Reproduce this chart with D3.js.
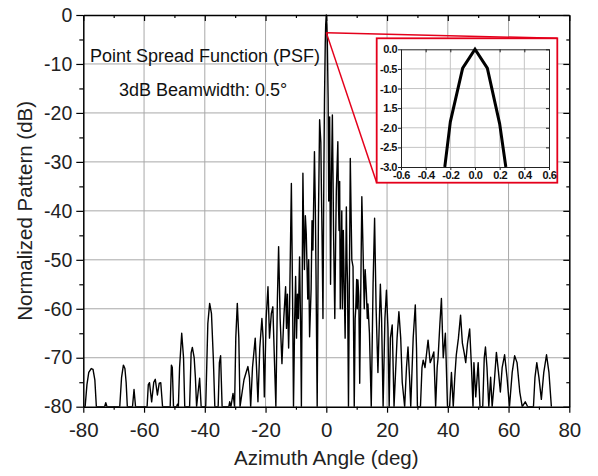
<!DOCTYPE html>
<html>
<head>
<meta charset="utf-8">
<script src="https://cdn.jsdelivr.net/npm/d3@7"></script>
<style>
    body { margin: 0; background: #fff; }
    text { font-family: Arial, "Liberation Sans", sans-serif; }
</style>
</head>
<body>
<svg id="chart" width="598" height="476"></svg>
<script>
// Azimuth pattern, [angle deg, level dB]
const patternPoints = [
    [-80, -80], [-79.4, -80], [-78.8, -75.5], [-78.2, -73], [-77.4, -72.2], [-76.8, -72.4], [-76.2, -74.5], [-75.7, -80],
    [-73.0, -80], [-72.6, -79.2], [-72.2, -80],
    [-68.0, -80], [-67.4, -74], [-66.8, -71.5], [-66.3, -72.2], [-65.9, -75], [-65.5, -80],
    [-63.8, -80], [-63.3, -76.5], [-62.8, -80],
    [-59.0, -80], [-58.6, -75.5], [-58.2, -75.1], [-57.5, -79], [-56.8, -75], [-56.3, -74.4], [-55.6, -77.6], [-55.0, -75.2], [-54.5, -75.1], [-53.9, -80],
    [-51.4, -80], [-51.0, -71.5], [-50.7, -72], [-50.3, -80],
    [-49.3, -80], [-49.0, -79.5], [-48.7, -80],
    [-48.3, -72], [-47.6, -65.0], [-47.0, -70], [-46.6, -80],
    [-45.0, -80], [-44.5, -69], [-44.1, -67.9], [-43.5, -70], [-43.1, -74], [-42.7, -80], [-42.2, -77], [-41.7, -74.2], [-41.2, -80],
    [-39.7, -80], [-39.0, -63], [-38.4, -58.9], [-37.8, -61], [-37.2, -70], [-36.7, -80],
    [-35.6, -80], [-35.2, -71], [-34.8, -69.6], [-34.3, -80],
    [-32.1, -80], [-31.8, -79], [-31.4, -80], [-30.7, -77.3], [-30.2, -80],
    [-29.8, -66], [-29.3, -58.9], [-28.8, -66], [-28.4, -80],
    [-27.7, -77], [-27.1, -74.5], [-26.3, -72.8], [-25.8, -71.8], [-25.3, -74], [-24.9, -80],
    [-24.3, -72], [-23.4, -66.0], [-22.9, -73], [-22.5, -79],
    [-21.9, -68], [-21.2, -62.0], [-20.8, -66], [-20.4, -78],
    [-19.8, -62], [-19.2, -55.5], [-18.7, -66], [-18.1, -61], [-17.6, -59.6], [-17.1, -70], [-16.6, -80],
    [-16.1, -58], [-15.7, -47.3], [-15.2, -62], [-14.6, -71.2], [-14.0, -62], [-13.4, -55.5], [-13.1, -64], [-12.8, -57], [-12.4, -68], [-12.1, -60],
    [-11.5, -34.4], [-11.1, -58], [-10.8, -80], [-10.4, -62], [-10.1, -53.4], [-9.8, -66], [-9.5, -57], [-9.2, -62], [-8.8, -49.4], [-8.4, -66], [-8.2, -80],
    [-7.7, -32.3], [-7.4, -46], [-7.2, -52], [-6.9, -41], [-6.6, -44.6], [-6.1, -58], [-5.8, -50], [-5.5, -65.7], [-5.0, -56], [-4.7, -42], [-4.4, -48],
    [-3.9, -27.9], [-3.6, -40], [-3.4, -52], [-3.0, -80],
    [-2.6, -42], [-2.2, -21.4], [-1.8, -26], [-1.6, -36], [-1.4, -45], [-1.1, -62], [-0.8, -32], [-0.6, -17.4], [-0.35, -6], [-0.2, -2], [0, 0], [0.2, -2], [0.35, -6],
    [0.6, -17], [0.8, -38], [1.1, -20.8], [1.4, -55], [1.7, -33], [2.0, -20.4], [2.2, -32], [2.4, -45], [2.8, -62], [3.1, -45], [3.3, -36], [3.8, -25.9],
    [4.0, -38], [4.2, -44], [4.4, -34], [4.6, -60], [4.9, -48], [5.1, -40], [5.3, -60], [5.6, -44], [5.8, -52], [6.2, -66], [6.6, -39.2], [6.8, -50], [7.0, -55], [7.3, -80],
    [7.9, -29.3], [8.2, -42], [8.4, -50], [8.8, -51.4], [9.2, -80], [9.5, -62], [9.7, -60], [10.0, -54], [10.2, -60], [10.4, -54.1], [10.7, -57.5], [11.0, -75.2],
    [11.7, -37.1], [12.1, -48], [12.5, -60], [12.8, -52], [13.2, -56.8], [13.5, -62], [13.7, -59], [14.2, -65], [14.8, -80],
    [15.4, -55], [15.9, -41.5], [16.4, -60], [17.0, -73], [17.8, -55], [18.2, -62], [18.7, -80], [19.3, -62], [19.8, -56.2], [20.3, -64], [20.7, -80],
    [21.1, -66], [21.7, -63.3], [22.3, -80],
    [23.3, -66], [23.9, -60.6], [24.5, -66], [25.0, -75], [25.8, -80], [26.4, -72], [26.9, -67.8], [27.4, -74], [27.8, -80],
    [28.6, -66], [29.3, -59.2], [29.7, -68], [30.0, -80],
    [31.0, -80], [31.5, -72], [31.9, -70.5], [32.5, -72], [33.5, -66.4], [34.2, -71], [34.8, -70], [35.4, -68.8], [36.0, -80],
    [36.5, -72], [36.8, -70], [37.4, -63], [37.9, -57.9], [38.5, -70], [39.2, -65], [39.9, -80],
    [40.6, -80], [41.2, -73], [41.8, -80], [42.3, -74], [42.8, -69.4], [43.5, -66], [44.2, -61.3], [44.8, -67], [45.4, -69], [45.9, -71],
    [46.5, -67], [47.2, -64.1], [47.8, -72], [48.3, -80], [48.6, -71], [49.2, -78], [50.0, -71], [50.6, -80],
    [51.5, -80], [52.0, -70], [52.4, -67.8], [52.9, -72], [53.5, -80], [54.1, -74], [54.6, -80], [55.3, -75], [56.0, -68.9], [56.7, -73],
    [57.3, -77], [57.9, -72], [58.7, -69.4], [59.5, -74], [60.3, -80],
    [61.2, -73], [62.0, -69.6], [62.8, -71], [63.7, -77], [64.5, -80], [65.5, -79], [66.3, -80],
    [68.2, -80], [68.7, -74], [69.3, -71], [70.0, -74], [70.8, -78.5], [71.6, -73], [72.5, -69.4], [73.3, -73], [74.1, -80]
];

const xTicks = [-80, -60, -40, -20, 0, 20, 40, 60, 80];
const xMinorTicks = [-70, -50, -30, -10, 10, 30, 50, 70];
const yTicks = [0, -10, -20, -30, -40, -50, -60, -70, -80];
const yMinorTicks = [-5, -15, -25, -35, -45, -55, -65, -75];

// Zoomed main lobe (inset)
const psfAngle = [-0.245, -0.2, -0.1, 0, 0.1, 0.2, 0.25];
const psfLevel = [-3.0, -1.85, -0.48, 0, -0.48, -1.9, -3.0];
const insetXTicks = [-0.6, -0.4, -0.2, 0, 0.2, 0.4, 0.6];
const insetYTicks = [0, -0.5, -1.0, -1.5, -2.0, -2.5, -3.0];
const insetYLabels = ["0.0", "-0.5", "-1.0", "1.5", "-2.0", "-2.5", "-3.0"];
const zoomAnchor = [0, -3.6];

const svg = d3.select("#chart");
const plot = { left: 83.3, right: 569.3, top: 15, bottom: 406.7 };

const x = d3.scaleLinear().domain([-80, 80]).range([plot.left, plot.right]);
const y = d3.scaleLinear().domain([-80, 0]).range([plot.bottom, plot.top]);

// plain hyphen minus, as in the picture
const fmt = (d) => String(d);
const fmt1 = (d) => d.toFixed(1);

// grid
const grid = svg.append("g").attr("stroke", "#a8a8a8").attr("stroke-width", 1);
grid.selectAll(".gx").data(xTicks.slice(1, -1)).join("line")
    .attr("x1", (d) => x(d)).attr("x2", (d) => x(d))
    .attr("y1", plot.top).attr("y2", plot.bottom);
grid.selectAll(".gy").data(yTicks.slice(1, -1)).join("line")
    .attr("x1", plot.left).attr("x2", plot.right)
    .attr("y1", (d) => y(d)).attr("y2", (d) => y(d));

svg.append("defs").append("clipPath").attr("id", "plotClip")
    .append("rect")
    .attr("x", plot.left).attr("y", plot.top - 1)
    .attr("width", plot.right - plot.left).attr("height", plot.bottom - plot.top + 1);

const line = d3.line().x((d) => x(d[0])).y((d) => y(d[1]));
svg.append("path")
    .datum(patternPoints)
    .attr("clip-path", "url(#plotClip)")
    .attr("fill", "none")
    .attr("stroke", "#000")
    .attr("stroke-width", 1.4)
    .attr("stroke-linejoin", "round")
    .attr("d", line);

// axes: labelled on left/bottom, mirror ticks inward on top/right
function styleAxis(g, fontSize) {
    g.selectAll(".domain").attr("stroke", "#000").attr("stroke-width", 1.5);
    g.selectAll(".tick line").attr("stroke", "#000").attr("stroke-width", 1.2);
    g.selectAll("text").attr("fill", "#222").attr("font-size", fontSize).attr("font-family", null);
}

svg.append("g").attr("transform", `translate(${plot.left},0)`)
    .call(d3.axisLeft(y).tickValues(yTicks).tickSize(7).tickSizeOuter(0).tickPadding(4).tickFormat(fmt))
    .call((g) => styleAxis(g, 19.5));
svg.append("g").attr("transform", `translate(${plot.left},0)`)
    .call(d3.axisLeft(y).tickValues(yMinorTicks).tickSize(4).tickFormat(""))
    .call((g) => { g.select(".domain").remove(); styleAxis(g, 19); });

svg.append("g").attr("transform", `translate(0,${plot.bottom})`)
    .call(d3.axisBottom(x).tickValues(xTicks).tickSize(6).tickSizeOuter(0).tickPadding(10).tickFormat(fmt))
    .call((g) => styleAxis(g, 20.5));
svg.append("g").attr("transform", `translate(0,${plot.bottom})`)
    .call(d3.axisBottom(x).tickValues(xMinorTicks).tickSize(3).tickFormat(""))
    .call((g) => { g.select(".domain").remove(); styleAxis(g, 20); });

svg.append("g").attr("transform", `translate(0,${plot.top})`)
    .call(d3.axisTop(x).tickValues(xTicks).tickSize(-6).tickSizeOuter(0).tickFormat(""))
    .call((g) => styleAxis(g, 0));
svg.append("g").attr("transform", `translate(0,${plot.top})`)
    .call(d3.axisTop(x).tickValues(xMinorTicks).tickSize(-3).tickFormat(""))
    .call((g) => { g.select(".domain").remove(); styleAxis(g, 0); });

svg.append("g").attr("transform", `translate(${plot.right},0)`)
    .call(d3.axisRight(y).tickValues(yTicks).tickSize(-6).tickSizeOuter(0).tickFormat(""))
    .call((g) => styleAxis(g, 0));
svg.append("g").attr("transform", `translate(${plot.right},0)`)
    .call(d3.axisRight(y).tickValues(yMinorTicks).tickSize(-3).tickFormat(""))
    .call((g) => { g.select(".domain").remove(); styleAxis(g, 0); });

// axis titles
svg.append("text")
    .attr("x", (plot.left + plot.right) / 2).attr("y", 465)
    .attr("text-anchor", "middle").attr("font-size", 20.5).attr("fill", "#222")
    .text("Azimuth Angle (deg)");
svg.append("text")
    .attr("transform", `translate(32,${(plot.top + plot.bottom) / 2}) rotate(-90)`)
    .attr("text-anchor", "middle").attr("font-size", 20.5).attr("fill", "#222")
    .text("Normalized Pattern (dB)");

// annotations
svg.append("text").attr("x", 90).attr("y", 62).attr("font-size", 18).attr("fill", "#111")
    .text("Point Spread Function (PSF)");
svg.append("text").attr("x", 119).attr("y", 96).attr("font-size", 18).attr("fill", "#111")
    .text("3dB Beamwidth: 0.5°");

// inset box and zoom lines
const box = { left: 376.7, right: 557.3, top: 38.3, bottom: 182.7 };
const red = "#e4001b";
svg.append("line")
    .attr("x1", x(zoomAnchor[0])).attr("y1", y(zoomAnchor[1]))
    .attr("x2", box.right).attr("y2", box.top)
    .attr("stroke", red).attr("stroke-width", 1.5);
svg.append("line")
    .attr("x1", x(zoomAnchor[0])).attr("y1", y(zoomAnchor[1]))
    .attr("x2", box.left).attr("y2", box.bottom)
    .attr("stroke", red).attr("stroke-width", 1.5);
svg.append("rect")
    .attr("x", box.left).attr("y", box.top)
    .attr("width", box.right - box.left).attr("height", box.bottom - box.top)
    .attr("fill", "#fff").attr("stroke", red).attr("stroke-width", 1.8);

const inset = { left: 401, right: 549, top: 49.3, bottom: 167 };
const ix = d3.scaleLinear().domain([-0.6, 0.6]).range([inset.left, inset.right]);
const iy = d3.scaleLinear().domain([-3, 0]).range([inset.bottom, inset.top]);

const igrid = svg.append("g").attr("stroke", "#c4c4c4").attr("stroke-width", 1);
igrid.selectAll(".igx").data(insetXTicks.slice(1, -1)).join("line")
    .attr("x1", (d) => ix(d)).attr("x2", (d) => ix(d))
    .attr("y1", inset.top).attr("y2", inset.bottom);
igrid.selectAll(".igy").data(insetYTicks.slice(1, -1)).join("line")
    .attr("x1", inset.left).attr("x2", inset.right)
    .attr("y1", (d) => iy(d)).attr("y2", (d) => iy(d));

function styleInsetAxis(g) {
    g.selectAll(".domain").attr("stroke", "#222").attr("stroke-width", 1);
    g.selectAll(".tick line").attr("stroke", "#222").attr("stroke-width", 1);
    g.selectAll("text").attr("fill", "#111").attr("font-size", 11).attr("font-weight", "bold")
        .attr("font-family", null).attr("letter-spacing", -0.5);
}

svg.append("g").attr("transform", `translate(${inset.left},0)`)
    .call(d3.axisLeft(iy).tickValues(insetYTicks).tickSize(3).tickSizeOuter(0).tickPadding(1)
        .tickFormat((d, i) => insetYLabels[i]))
    .call(styleInsetAxis);
svg.append("g").attr("transform", `translate(0,${inset.bottom})`)
    .call(d3.axisBottom(ix).tickValues(insetXTicks).tickSize(3).tickSizeOuter(0).tickPadding(1)
        .tickFormat(fmt1))
    .call(styleInsetAxis);
svg.append("g").attr("transform", `translate(0,${inset.top})`)
    .call(d3.axisTop(ix).tickValues(insetXTicks).tickSize(-3).tickSizeOuter(0).tickFormat(""))
    .call(styleInsetAxis);
svg.append("g").attr("transform", `translate(${inset.right},0)`)
    .call(d3.axisRight(iy).tickValues(insetYTicks).tickSize(-3).tickSizeOuter(0).tickFormat(""))
    .call(styleInsetAxis);

const psfLine = d3.line().x((d) => ix(d[0])).y((d) => iy(d[1]));
svg.append("path")
    .datum(psfAngle.map((a, i) => [a, psfLevel[i]]))
    .attr("fill", "none")
    .attr("stroke", "#000")
    .attr("stroke-width", 3)
    .attr("d", psfLine);
</script>
</body>
</html>
